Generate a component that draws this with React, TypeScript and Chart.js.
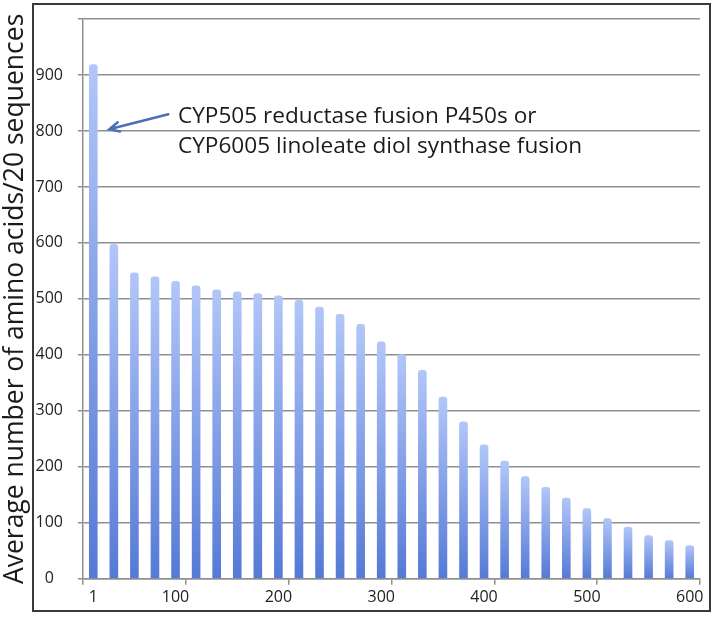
import React, { useEffect, useRef } from "react";
import { Chart, registerables } from "chart.js";

Chart.register(...registerables);

const rankBins = [
  "1-20", "21-40", "41-60", "61-80", "81-100",
  "101-120", "121-140", "141-160", "161-180", "181-200",
  "201-220", "221-240", "241-260", "261-280", "281-300",
  "301-320", "321-340", "341-360", "361-380", "381-400",
  "401-420", "421-440", "441-460", "461-480", "481-500",
  "501-520", "521-540", "541-560", "561-580", "581-600",
];

const avgAminoAcids = [
  919, 598, 547, 540, 532, 524, 517, 513, 510, 506,
  498, 486, 473, 455, 424, 401, 373, 325, 281, 240,
  211, 183, 164, 145, 126, 108, 93, 78, 69, 60,
];

const xTickLabels = [
  "1", "", "", "", "100", "", "", "", "", "200",
  "", "", "", "", "300", "", "", "", "", "400",
  "", "", "", "", "500", "", "", "", "", "600",
];

const yTicksShown = [0, 100, 200, 300, 400, 500, 600, 700, 800, 900];

const yTitle = "Average number of amino acids/20 sequences";
const noteLines = [
  "CYP505 reductase fusion P450s or",
  "CYP6005 linoleate diol synthase fusion",
];

const FONT = "'Open Sans', 'DejaVu Sans', sans-serif";
const GRID = "#8f8f8f";

const annotationPlugin = {
  id: "noteArrow",
  afterDraw(chart: any) {
    const { ctx, scales, chartArea } = chart;
    const x = scales.x;
    const y = scales.y;
    const tipX = x.getPixelForValue(0) + 16;
    const tipY = y.getPixelForValue(803);
    const tailX = tipX + 59;
    const tailY = tipY - 15;
    ctx.save();
    ctx.strokeStyle = "#4d6fb9";
    ctx.lineWidth = 2.5;
    ctx.lineCap = "round";
    ctx.beginPath();
    ctx.moveTo(tailX, tailY);
    ctx.lineTo(tipX, tipY);
    const ang = Math.atan2(tipY - tailY, tipX - tailX);
    const hl = 11;
    ctx.moveTo(tipX - hl * Math.cos(ang - 0.45), tipY - hl * Math.sin(ang - 0.45));
    ctx.lineTo(tipX, tipY);
    ctx.lineTo(tipX - hl * Math.cos(ang + 0.45), tipY - hl * Math.sin(ang + 0.45));
    ctx.stroke();

    ctx.fillStyle = "#1b1b1b";
    ctx.font = `22.6px ${FONT}`;
    ctx.textAlign = "left";
    ctx.textBaseline = "alphabetic";
    const tx = chartArea.left + 95;
    const by = y.getPixelForValue(815);
    ctx.fillText(noteLines[0], tx, by);
    ctx.fillText(noteLines[1], tx, by + 30);
    ctx.restore();
  },
};

export default function App() {
  const ref = useRef<HTMLCanvasElement>(null);

  useEffect(() => {
    if (!ref.current) return;
    const chart = new Chart(ref.current, {
      type: "bar",
      data: {
        labels: rankBins,
        datasets: [
          {
            data: avgAminoAcids,
            backgroundColor: (c: any) => {
              const ch = c.chart;
              if (!ch.chartArea || c.type !== "data") return "#8ea8ec";
              const v = c.parsed ? c.parsed.y : c.raw;
              const top = ch.scales.y.getPixelForValue(v);
              const base = ch.scales.y.getPixelForValue(0);
              const g = ch.ctx.createLinearGradient(0, top, 0, base);
              g.addColorStop(0, "#b2c6f8");
              g.addColorStop(1, "#5579d6");
              return g;
            },
            borderWidth: 0,
            borderRadius: { topLeft: 3, topRight: 3, bottomLeft: 0, bottomRight: 0 },
            borderSkipped: "bottom",
            barPercentage: 0.42,
            categoryPercentage: 1,
          },
        ],
      },
      options: {
        responsive: false,
        animation: false,
        layout: { padding: { left: 0, right: 13, top: 19, bottom: 7 } },
        plugins: {
          legend: { display: false },
          tooltip: { enabled: false },
        },
        scales: {
          x: {
            offset: true,
            grid: {
              display: true,
              drawOnChartArea: false,
              offset: true,
              tickLength: 6,
              lineWidth: 1.5,
              color: (c: any) =>
                c.index === undefined || c.index % 5 === 0 ? GRID : "rgba(0,0,0,0)",
              tickColor: (c: any) =>
                c.index === undefined || c.index % 5 === 0 ? GRID : "rgba(0,0,0,0)",
            },
            border: { display: true, color: GRID, width: 1.5 },
            ticks: {
              autoSkip: false,
              maxRotation: 0,
              minRotation: 0,
              padding: 3,
              color: "#222",
              font: { family: FONT, size: 16 },
              callback: (_v: any, i: number) => xTickLabels[i],
            },
          },
          y: {
            min: 0,
            max: 1000,
            afterFit: (s: any) => {
              s.width = 83;
              s.paddingTop = 0;
            },
            grid: {
              color: GRID,
              lineWidth: 1.5,
              tickLength: 5,
            },
            border: { display: true, color: GRID, width: 1.5 },
            ticks: {
              stepSize: 100,
              crossAlign: "center",
              padding: 15,
              color: "#222",
              font: { family: FONT, size: 16 },
              callback: (v: any) => (yTicksShown.includes(Number(v)) ? String(v) : ""),
            },
            title: {
              display: true,
              text: yTitle,
              color: "#1b1b1b",
              font: { family: FONT, size: 26.5 },
              padding: { top: 0, bottom: 0 },
            },
          },
        },
      },
      plugins: [annotationPlugin],
    });
    return () => chart.destroy();
  }, []);

  return (
    <div
      style={{
        position: "fixed",
        left: 0,
        top: 0,
        width: 713,
        height: 617,
        background: "#fff",
      }}
    >
      <canvas ref={ref} width={713} height={617} style={{ display: "block" }} />
      <div
        style={{
          position: "absolute",
          left: 32,
          top: 3,
          width: 679,
          height: 609,
          border: "2px solid #3a3a3a",
          boxSizing: "border-box",
          pointerEvents: "none",
        }}
      />
    </div>
  );
}
